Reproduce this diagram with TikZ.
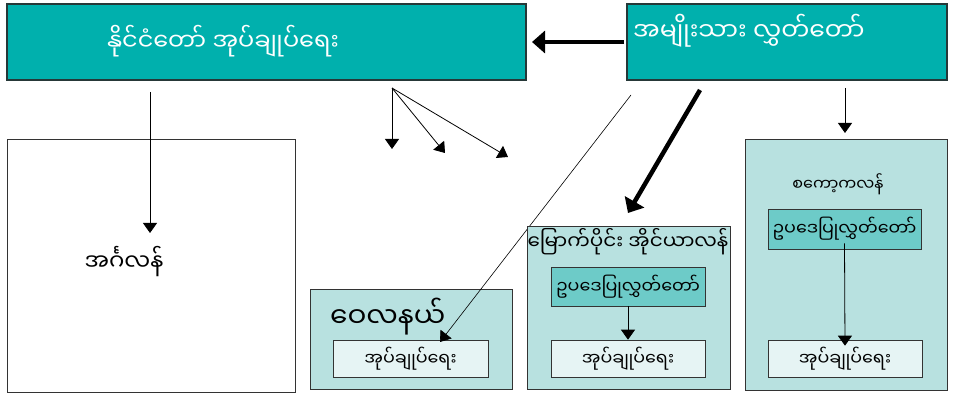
\documentclass[tikz,border=0pt]{standalone}
\usepackage{fontspec}
\newfontfamily\mya[Script=Myanmar]{Noto Sans Myanmar UI}
\usetikzlibrary{arrows.meta}
\definecolor{teal1}{HTML}{00B0AD}
\definecolor{teal2}{HTML}{6DCBC8}
\definecolor{teal3}{HTML}{B8E1E0}
\definecolor{teal4}{HTML}{E6F4F4}
\definecolor{edgec}{HTML}{263838}
\tikzset{
  topbox/.style={draw=edgec, line width=1.5pt, fill=teal1},
  regbox/.style={draw=black!80, line width=0.8pt, fill=teal3},
  legbox/.style={draw=black!80, line width=0.6pt, fill=teal2, font=\mya\fontsize{17.5}{20}\selectfont},
  admbox/.style={draw=black!80, line width=0.6pt, fill=teal4, font=\mya\fontsize{17.5}{20}\selectfont},
  thinarr/.style={draw=black, line width=0.8pt, -{Triangle[length=10pt,width=14pt]}},
  thickarr/.style={draw=black, line width=4.5pt, -{Triangle[length=13pt,width=22pt]}},
  lbl/.style={font=\mya\fontsize{15}{18}\selectfont, inner sep=0pt},
  bigl/.style={font=\mya\fontsize{24}{28}\selectfont, text=white, inner sep=0pt}
}
\begin{document}
\begin{tikzpicture}[x=1pt,y=-1pt]
\useasboundingbox (0,0) rectangle (954,398);
% top boxes
\draw[topbox] (7,4) rectangle (526,80);
\node[bigl] (admin) at (223,41) {နိုင်ငံတော် အုပ်ချုပ်ရေး};
\coordinate (adminR) at (532,42);
\draw[topbox] (627,4) rectangle (947,80);
\node[bigl, anchor=west, font=\mya\fontsize{25}{30}\selectfont] (assembly) at (633,31) {အမျိုးသား လွှတ်တော်};
\coordinate (assemL) at (624,42);
\draw[thickarr] (assemL) -- (adminR);
% England
\draw[draw=black!80, line width=0.8pt, fill=white] (7,139) rectangle (295,392);
\node[lbl, font=\mya\fontsize{23}{27}\selectfont] (eng) at (124,262) {အင်္ဂလန်};
\coordinate (a1) at (150,92);
\coordinate (a1e) at (150,233);
\draw[thinarr] (a1) -- (a1e);
% fan arrows
\coordinate (f0) at (392,88);
\coordinate (f1) at (392,149);
\coordinate (f2) at (445,153);
\coordinate (f3) at (508,157);
\draw[thinarr] (f0) -- (f1);
\draw[thinarr] (f0) -- (f2);
\draw[thinarr] (f0) -- (f3);
% Wales
\draw[regbox] (310,289) rectangle (512,389);
\node[lbl, anchor=west, font=\mya\fontsize{28}{32}\selectfont] (wales) at (330,317) {ဝေလနယ်};
\node[admbox, minimum width=155pt, minimum height=37pt] (wadm) at (410.5,358.5) {အုပ်ချုပ်ရေး};
\coordinate (w0) at (631,95);
\coordinate (w1) at (440,342);
\draw[thinarr, line width=0.6pt] (w0) -- (w1);
% Northern Ireland
\coordinate (n0) at (700,90);
\coordinate (n1) at (628,213);
\draw[thickarr] (n0) -- (n1);
\draw[regbox] (527,226) rectangle (730,389);
\node[lbl, font=\mya\fontsize{20}{24}\selectfont] (ni) at (628,242) {မြောက်ပိုင်း အိုင်ယာလန်};
\node[legbox, minimum width=154pt, minimum height=39pt] (nileg) at (628,286.5) {ဥပဒေပြုလွှတ်တော်};
\node[admbox, minimum width=154pt, minimum height=37pt] (niadm) at (628,358.5) {အုပ်ချုပ်ရေး};
\draw[thinarr] (nileg) -- (niadm);
% Scotland
\coordinate (s0) at (845,88);
\coordinate (s1) at (845,133);
\draw[thinarr] (s0) -- (s1);
\draw[regbox] (745,139) rectangle (947,390);
\node[lbl, font=\mya\fontsize{16}{19}\selectfont] (sc) at (838,184) {စကော့ကလန်};
\node[legbox, minimum width=153pt, minimum height=40pt] (scleg) at (844.5,229) {ဥပဒေပြုလွှတ်တော်};
\node[admbox, minimum width=154pt, minimum height=37pt] (scadm) at (845,358.5) {အုပ်ချုပ်ရေး};
\coordinate (sl0) at ([yshift=6pt]scleg.south);
\draw[thinarr] (sl0) -- ([yshift=-6pt]scadm.north);
\end{tikzpicture}
\end{document}
